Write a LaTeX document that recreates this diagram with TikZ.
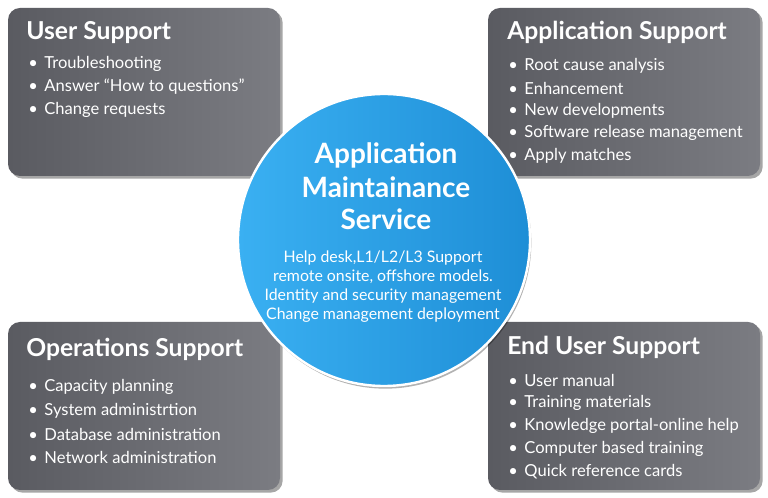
\documentclass[tikz,border=0pt]{standalone}
\usepackage{fontspec}
\setmainfont{Lato}
\usetikzlibrary{shadows}
\definecolor{gA}{HTML}{5A5B61}
\definecolor{gB}{HTML}{7B7C82}
\definecolor{bA}{HTML}{3AB0F2}
\definecolor{bB}{HTML}{1E8ED6}
\tikzset{
 panel/.style={rounded corners=9pt,left color=gA,right color=gB,draw=none,
   drop shadow={shadow xshift=2pt,shadow yshift=-2pt,opacity=0.35,fill=black}},
 ptitle/.style={anchor=west,text=white,font=\bfseries\fontsize{18.5}{20}\selectfont,inner sep=0},
 pitem/.style={anchor=west,text=white,font=\fontsize{12.4}{14}\selectfont,inner sep=0},
 ctitle/.style={text=white,font=\bfseries\fontsize{21}{23}\selectfont,inner sep=0},
 cbody/.style={text=white,font=\fontsize{11.9}{13}\selectfont,inner sep=0},
}
\newcommand{\bul}{\textbullet\hspace{0.4em}}
\begin{document}
\begin{tikzpicture}[x=0.75pt,y=-0.75pt]
\useasboundingbox (0,0) rectangle (768,498);
\fill[white] (0,0) rectangle (768,498);
\path[panel] (8,8) rectangle (280,176);
\path[panel] (488,8) rectangle (760,176);
\path[panel] (8,322) rectangle (280,490);
\path[panel] (488,322) rectangle (760,490);
\node[circle,minimum size=292*0.75pt,left color=bA,right color=bB,draw=white,line width=1.8pt,
  drop shadow={shadow xshift=1pt,shadow yshift=-2pt,opacity=0.3,fill=black}] (c) at (384,240) {};
% top-left
\node[ptitle] (t1) at (26,33) {User Support};
\node[pitem] (a1) at (28,64) {\bul Troubleshooting};
\node[pitem] (a2) at (28,87) {\bul Answer “How to questions”};
\node[pitem] (a3) at (28,110) {\bul Change requests};
% top-right
\node[ptitle] (t2) at (507,32) {Application Support};
\node[pitem] (b1) at (508,66) {\bul Root cause analysis};
\node[pitem] (b2) at (508,88) {\bul Enhancement};
\node[pitem] (b3) at (508,111) {\bul New developments};
\node[pitem] (b4) at (508,133) {\bul Software release management};
\node[pitem] (b5) at (508,156) {\bul Apply matches};
% bottom-left
\node[ptitle] (t3) at (26,349) {Operations Support};
\node[pitem] (d1) at (28,387) {\bul Capacity planning};
\node[pitem] (d2) at (28,411) {\bul System administrtion};
\node[pitem] (d3) at (28,434) {\bul Database administration};
\node[pitem] (d4) at (28,457) {\bul Network administration};
% bottom-right
\node[ptitle] (t4) at (507,347) {End User Support};
\node[pitem] (e1) at (508,380) {\bul User manual};
\node[pitem] (e2) at (508,403) {\bul Training materials};
\node[pitem] (e3) at (508,426) {\bul Knowledge portal-online help};
\node[pitem] (e4) at (508,449) {\bul Computer based training};
\node[pitem] (e5) at (508,472) {\bul Quick reference cards};
% centre
\node[ctitle] (c1) at (386,155) {Application};
\node[ctitle] (c2) at (386,187) {Maintainance};
\node[ctitle] (c3) at (386,219) {Service};
\node[cbody] (s1) at (383,258) {Help desk,L1/L2/L3 Support};
\node[cbody] (s2) at (383,277) {remote onsite, offshore models.};
\node[cbody] (s3) at (383,296) {Identity and security management};
\node[cbody] (s4) at (383,315) {Change management deployment};
\end{tikzpicture}
\end{document}
